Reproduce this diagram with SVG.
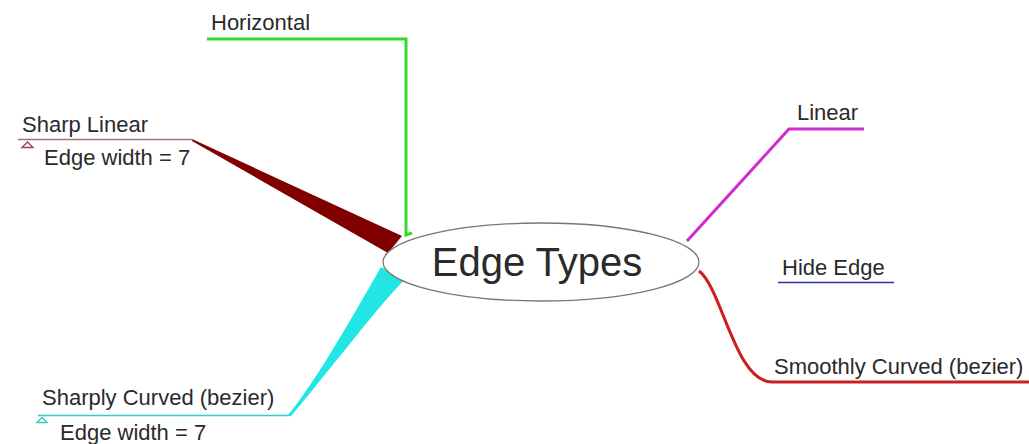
<svg xmlns="http://www.w3.org/2000/svg" width="1029" height="444" viewBox="0 0 1029 444">
<style>
text{font-family:"Liberation Sans",Arial,sans-serif;fill:#2a2a2a}
.lbl{font-size:22px}
.sub{font-size:22px}
.edge{fill:none;stroke-linejoin:miter}
</style>
<rect width="1029" height="444" fill="#ffffff"/>
<g id="connectors">
<polyline class="edge" points="207,39 406,39 406,235 412,233" stroke="#2ddc2d" stroke-width="3"/>
<polygon points="192,139 402,236 388,253 192,141" fill="#800000"/>
<path d="M287,416 C310,390 345,330 381,267 L405,279 C375,310 330,370 291,416 Z" fill="#22e6e6"/>
<polyline class="edge" points="687,241 789,129 864,129" stroke="#d02ad0" stroke-width="3"/>
<path class="edge" d="M699,271 C722,288 735,382 772,382 L1029,382" stroke="#cc2020" stroke-width="3"/>
</g>
<g id="center">
<ellipse cx="541" cy="262" rx="158" ry="39" fill="#ffffff" stroke="#777" stroke-width="1.3"/>
<text x="537" y="276" text-anchor="middle" font-size="40">Edge Types</text>
</g>
<g id="horizontal">
<text class="lbl" x="211" y="30">Horizontal</text>
</g>
<g id="sharp-linear">
<text class="lbl" x="22" y="132">Sharp Linear</text>
<line x1="18" y1="139.5" x2="193" y2="139.5" stroke="#a8707a" stroke-width="1.5"/>
<polygon points="27.5,142 33,147.5 22,147.5" fill="#fff" stroke="#994466" stroke-width="1.4"/>
<text class="sub" x="44" y="165">Edge width = 7</text>
</g>
<g id="sharply-curved">
<text class="lbl" x="42" y="405">Sharply Curved (bezier)</text>
<line x1="38" y1="415.5" x2="289" y2="415.5" stroke="#33cccc" stroke-width="1.5"/>
<polygon points="42,417.5 47,422.5 37,422.5" fill="#fff" stroke="#33cccc" stroke-width="1.4"/>
<text class="sub" x="60" y="440">Edge width = 7</text>
</g>
<g id="linear">
<text class="lbl" x="797" y="120">Linear</text>
</g>
<g id="hide-edge">
<text class="lbl" x="782" y="275">Hide Edge</text>
<line x1="778" y1="282.5" x2="894" y2="282.5" stroke="#333399" stroke-width="1.5"/>
</g>
<g id="smoothly-curved">
<text class="lbl" x="774" y="374">Smoothly Curved (bezier)</text>
</g>
</svg>
